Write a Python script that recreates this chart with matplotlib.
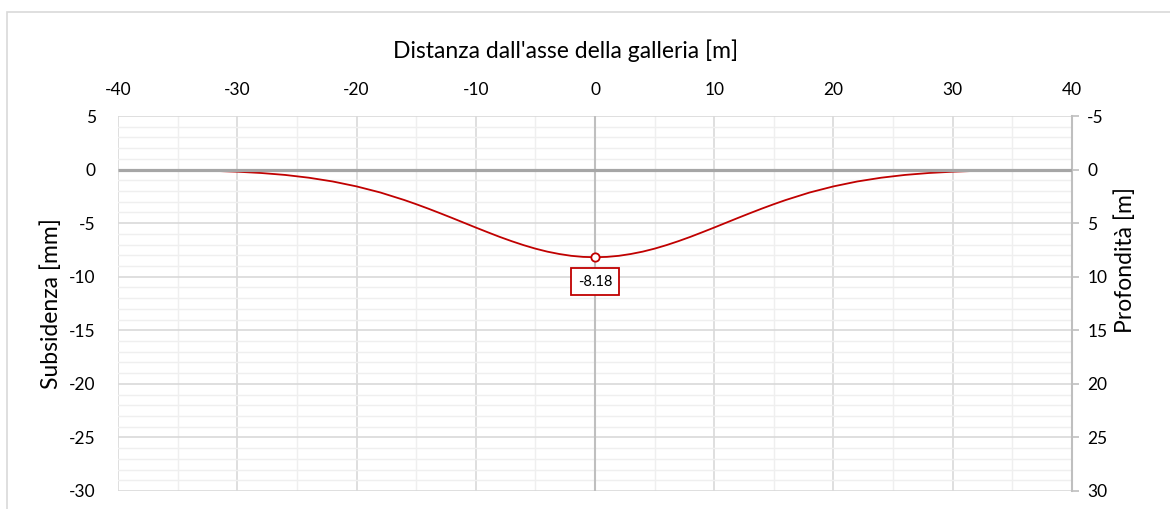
import numpy as np
import matplotlib
matplotlib.use("Agg")
import matplotlib.pyplot as plt
from matplotlib.patches import Rectangle
from matplotlib.ticker import MultipleLocator

plt.rcParams['font.family'] = ['Lato', 'DejaVu Sans']
plt.rcParams['axes.unicode_minus'] = False

# distanza dall'asse [m] e subsidenza [mm]
distanza = [-34, -32, -30, -28, -26, -24, -22, -20, -18, -16, -15, -14, -13, -12, -11, -10, -9, -8,
            -7, -6, -5, -4, -3, -2, -1, 0, 1, 2, 3, 4, 5, 6, 7, 8, 9, 10, 11, 12, 13, 14, 15, 16,
            18, 20, 22, 24, 26, 28, 30, 32, 34]
subsidenza = [-0.07, -0.12, -0.20, -0.32, -0.50, -0.76, -1.11, -1.57, -2.14, -2.84, -3.23, -3.64,
              -4.07, -4.51, -4.96, -5.41, -5.85, -6.28, -6.68, -7.05, -7.38, -7.66, -7.88, -8.05,
              -8.15, -8.18, -8.15, -8.05, -7.88, -7.66, -7.38, -7.05, -6.68, -6.28, -5.85, -5.41,
              -4.96, -4.51, -4.07, -3.64, -3.23, -2.84, -2.14, -1.57, -1.11, -0.76, -0.50, -0.32,
              -0.20, -0.12, -0.07]
# piano campagna
terreno_x = [-40, 40]
terreno_y = [0, 0]
s_max_x = 0
s_max = -8.18

x_ticks = [-40, -30, -20, -10, 0, 10, 20, 30, 40]
y_ticks = [5, 0, -5, -10, -15, -20, -25, -30]
prof_ticks = [-5, 0, 5, 10, 15, 20, 25, 30]

fig = plt.figure(figsize=(11.7, 5.09), dpi=100)
ax = fig.add_axes([0.1009, 0.0354, 0.8153, 0.7367])

# cornice esterna
fig.patches.append(Rectangle((0.006, -0.05), 1.1, 1.026, transform=fig.transFigure,
                             fill=False, edgecolor='#D9D9D9', linewidth=1.2))

ax.set_xlim(-40, 40)
ax.set_ylim(-30, 5)
ax.xaxis.set_minor_locator(MultipleLocator(5))
ax.yaxis.set_minor_locator(MultipleLocator(1))
ax.set_xticks(x_ticks)
ax.set_yticks(y_ticks)
ax.grid(which='major', color='#D9D9D9', linewidth=1.2)
ax.grid(which='minor', color='#EFEFEF', linewidth=1.0)
ax.set_axisbelow(True)

ax.xaxis.tick_top()
ax.xaxis.set_label_position('top')
ax.tick_params(axis='both', which='both', length=0, labelsize=12.5, colors='black')
ax.tick_params(axis='x', pad=13)
ax.tick_params(axis='y', pad=16)
for s in ['left', 'top', 'bottom']:
    ax.spines[s].set_visible(False)
ax.spines['right'].set_color('#BFBFBF')
ax.spines['right'].set_linewidth(1.5)

ax.set_xlabel("Distanza dall'asse della galleria [m]", fontsize=16.5)
ax.xaxis.set_label_coords(0.4696, 1.155)
ax.set_ylabel("Subsidenza [mm]", fontsize=16.5)
ax.yaxis.set_label_coords(-0.059, 0.5)

# asse verticale in corrispondenza della galleria
ax.axvline(0, color='#BFBFBF', linewidth=1.5, zorder=1)

ax.plot(distanza, subsidenza, color='#C00000', linewidth=1.3, zorder=2)
ax.plot(terreno_x, terreno_y, color='#A6A6A6', linewidth=2.3, solid_capstyle='butt', zorder=3)
ax.plot([s_max_x], [s_max], marker='o', markersize=6, markerfacecolor='white',
        markeredgecolor='#C00000', markeredgewidth=1.3, zorder=4)
ax.annotate(f"{s_max:.2f}", xy=(s_max_x, s_max), xytext=(0, -17.5), textcoords='offset points',
            ha='center', va='center', fontsize=10.5,
            bbox=dict(boxstyle='square,pad=0.45', facecolor='white', edgecolor='#C00000', linewidth=1.3),
            zorder=5)

# asse secondario: profondità
ax2 = ax.twinx()
ax2.set_ylim(30, -5)
ax2.set_yticks(prof_ticks)
ax2.tick_params(axis='y', length=5, color='#BFBFBF', width=1.2, labelsize=12.5, pad=6)
for s in ['left', 'top', 'bottom', 'right']:
    ax2.spines[s].set_visible(False)
ax2.set_ylabel("Profondità [m]", fontsize=16.5)
ax2.yaxis.set_label_coords(1.044, 0.616)

fig.savefig('out.png', dpi=100)
